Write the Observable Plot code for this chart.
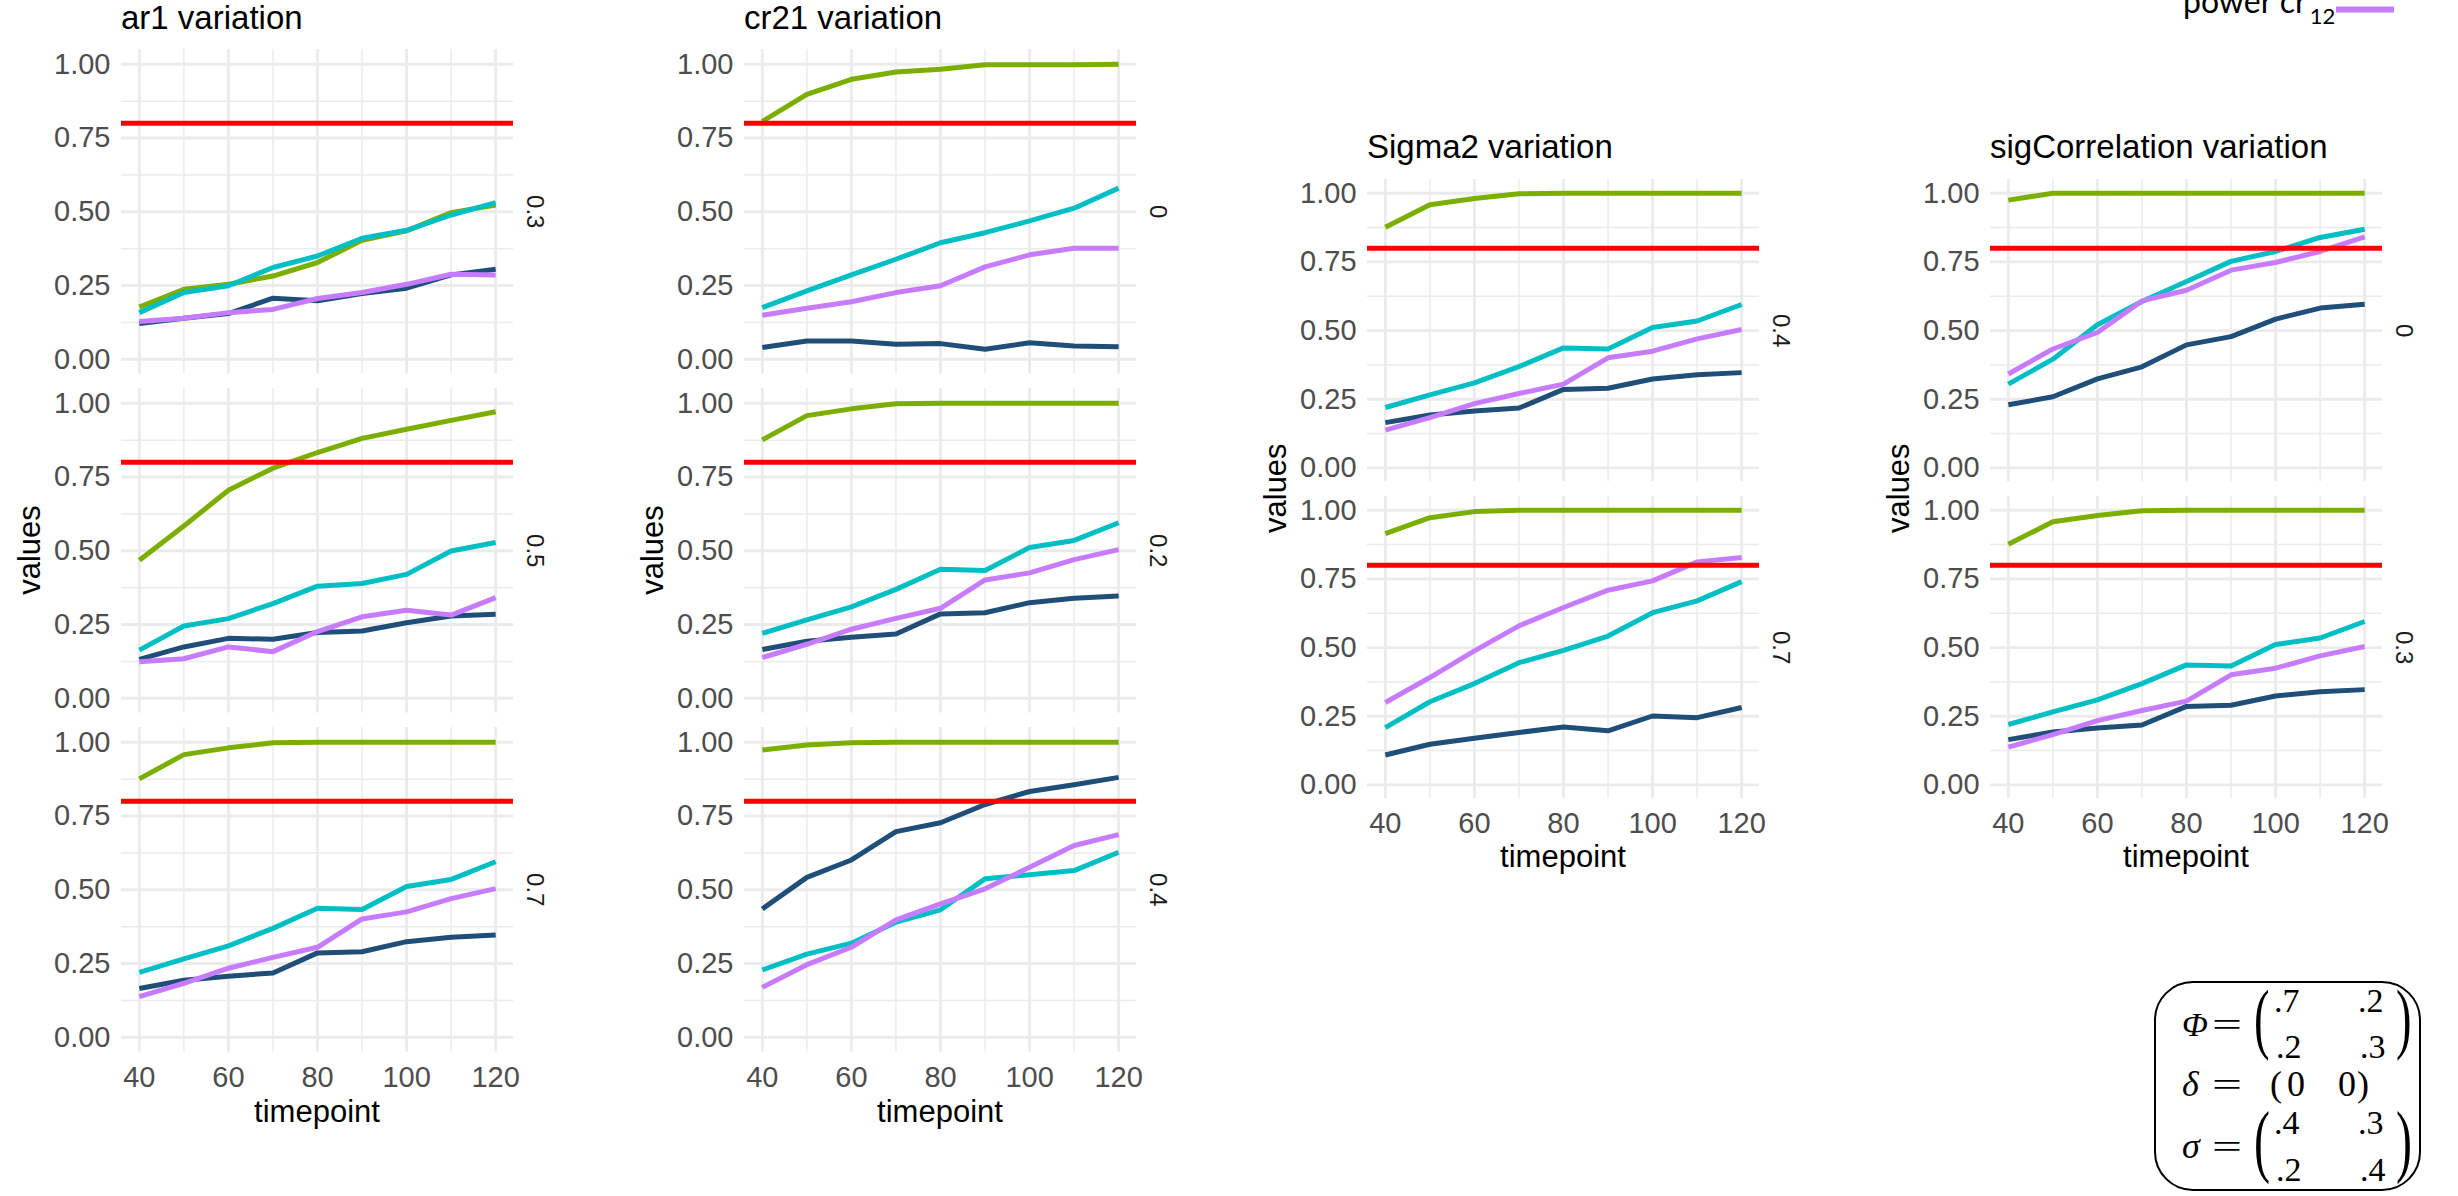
<!DOCTYPE html>
<html>
<head>
<meta charset="utf-8">
<script src="https://cdn.jsdelivr.net/npm/d3@7"></script>
<script src="https://cdn.jsdelivr.net/npm/@observablehq/plot@0.6"></script>
<style>
  html, body { margin: 0; padding: 0; background: #fff; }
  #fig { position: relative; width: 2458px; height: 1196px; overflow: hidden; background: #fff; }
  #fig svg { display: block; max-width: none; }
</style>
</head>
<body>
<div id="fig"></div>
<script>
// ---- data -------------------------------------------------------------
const timepoints = [40, 50, 60, 70, 80, 90, 100, 110, 120];
const xMajor = [40, 60, 80, 100, 120];
const xMinor = [50, 70, 90, 110];
const yMajor = [0, 0.25, 0.5, 0.75, 1];
const yMinor = [0.125, 0.375, 0.625, 0.875];
const target = 0.8;

const seriesOrder = ["cr21", "ar1", "ar2", "cr12"];
const seriesColors = { cr21: "#1F4E79", ar1: "#7CAE00", ar2: "#00BFC4", cr12: "#C77CFF" };

// baseline scenario (ar1 = .7, cr21 = .2, Sigma2 = .4, sigCorrelation = .3)
const baseline = {
  cr21: [0.165, 0.193, 0.207, 0.218, 0.286, 0.290, 0.324, 0.339, 0.347],
  ar1:  [0.876, 0.958, 0.981, 0.998, 1.000, 1.000, 1.000, 1.000, 1.000],
  ar2:  [0.220, 0.266, 0.310, 0.369, 0.437, 0.433, 0.511, 0.535, 0.595],
  cr12: [0.138, 0.183, 0.234, 0.271, 0.305, 0.401, 0.425, 0.470, 0.504]
};
const ar1_03 = {
  cr21: [0.121, 0.139, 0.155, 0.207, 0.198, 0.223, 0.241, 0.286, 0.305],
  ar1:  [0.177, 0.237, 0.254, 0.282, 0.328, 0.403, 0.435, 0.497, 0.523],
  ar2:  [0.158, 0.226, 0.249, 0.311, 0.350, 0.410, 0.437, 0.489, 0.531],
  cr12: [0.128, 0.139, 0.158, 0.169, 0.206, 0.226, 0.254, 0.288, 0.286]
};
const ar1_05 = {
  cr21: [0.132, 0.174, 0.203, 0.200, 0.223, 0.228, 0.256, 0.279, 0.285],
  ar1:  [0.468, 0.584, 0.705, 0.780, 0.833, 0.881, 0.912, 0.942, 0.971],
  ar2:  [0.163, 0.245, 0.270, 0.321, 0.380, 0.389, 0.420, 0.499, 0.528],
  cr12: [0.124, 0.134, 0.174, 0.158, 0.226, 0.276, 0.298, 0.282, 0.341]
};
const cr21_0 = {
  cr21: [0.040, 0.062, 0.062, 0.051, 0.053, 0.034, 0.056, 0.045, 0.042],
  ar1:  [0.806, 0.898, 0.949, 0.974, 0.983, 0.998, 0.998, 0.998, 1.000],
  ar2:  [0.175, 0.232, 0.286, 0.339, 0.395, 0.429, 0.469, 0.512, 0.580],
  cr12: [0.149, 0.173, 0.195, 0.226, 0.249, 0.313, 0.354, 0.376, 0.376]
};
const cr21_04 = {
  cr21: [0.435, 0.542, 0.601, 0.697, 0.727, 0.789, 0.833, 0.856, 0.881],
  ar1:  [0.974, 0.991, 0.998, 1.000, 1.000, 1.000, 1.000, 1.000, 1.000],
  ar2:  [0.228, 0.282, 0.319, 0.390, 0.432, 0.537, 0.551, 0.565, 0.627],
  cr12: [0.169, 0.246, 0.305, 0.398, 0.452, 0.503, 0.576, 0.650, 0.687]
};
const sigma2_07 = {
  cr21: [0.109, 0.148, 0.170, 0.191, 0.211, 0.197, 0.251, 0.245, 0.282],
  ar1:  [0.915, 0.973, 0.995, 1.000, 1.000, 1.000, 1.000, 1.000, 1.000],
  ar2:  [0.209, 0.303, 0.369, 0.445, 0.490, 0.542, 0.627, 0.670, 0.740],
  cr12: [0.300, 0.391, 0.488, 0.579, 0.646, 0.709, 0.743, 0.812, 0.828]
};
const sigCor_0 = {
  cr21: [0.230, 0.259, 0.324, 0.368, 0.448, 0.478, 0.542, 0.582, 0.596],
  ar1:  [0.975, 1.000, 1.000, 1.000, 1.000, 1.000, 1.000, 1.000, 1.000],
  ar2:  [0.305, 0.396, 0.521, 0.606, 0.679, 0.752, 0.788, 0.839, 0.869],
  cr12: [0.342, 0.433, 0.493, 0.608, 0.647, 0.720, 0.748, 0.788, 0.841]
};

const columns = [
  { title: "ar1 variation",            levels: ["0.3", "0.5", "0.7"], sets: [ar1_03, ar1_05, baseline] },
  { title: "cr21 variation",           levels: ["0", "0.2", "0.4"],   sets: [cr21_0, baseline, cr21_04] },
  { title: "Sigma2 variation",         levels: ["0.4", "0.7"],        sets: [baseline, sigma2_07] },
  { title: "sigCorrelation variation", levels: ["0", "0.3"],          sets: [sigCor_0, baseline] }
];

// ---- layout -----------------------------------------------------------
const FONT = '"Liberation Sans", Arial, sans-serif';
const PANEL_W = 392, ML = 120, MR = 50;
const colLeft = [121, 744, 1367, 1990];
const tall = { tops: [48.5, 387.5, 727], h: 324.5, titleY: 29, tickBase: 1122 };
const short = { tops: [178.6, 495.6], h: 302.2, titleY: 158, tickBase: 867 };
const fig = document.getElementById("fig");

function panel(data, strip, left, top, h, showX) {
  const rows = seriesOrder.flatMap(key =>
    data[key].map((v, i) => ({ series: key, t: timepoints[i], v })));
  const mb = showX ? 50 : 0;
  const svg = Plot.plot({
    width: ML + PANEL_W + MR,
    height: h + mb,
    marginLeft: ML, marginRight: MR, marginTop: 0, marginBottom: mb,
    style: { fontFamily: FONT, fontSize: "29px", color: "#4D4D4D", background: "none", overflow: "visible" },
    x: { domain: [36, 124], ticks: xMajor, tickSize: 0, tickPadding: 14, label: null, axis: showX ? "bottom" : null },
    y: { domain: [-0.05, 1.05], ticks: yMajor, tickFormat: d3.format(".2f"), tickSize: 0, tickPadding: 11, label: null },
    color: { domain: seriesOrder, range: seriesOrder.map(k => seriesColors[k]) },
    marks: [
      Plot.ruleY(yMinor, { stroke: "#EBEBEB", strokeWidth: 1.5 }),
      Plot.ruleX(xMinor, { stroke: "#EBEBEB", strokeWidth: 1.5 }),
      Plot.ruleY(yMajor, { stroke: "#EBEBEB", strokeWidth: 2.8 }),
      Plot.ruleX(xMajor, { stroke: "#EBEBEB", strokeWidth: 2.8 }),
      Plot.line(rows, { x: "t", y: "v", z: "series", stroke: "series", strokeWidth: 5, strokeLinecap: "butt", strokeLinejoin: "round" }),
      Plot.ruleY([target], { stroke: "#FF0000", strokeWidth: 5 }),
      Plot.text([strip], { text: d => d, frameAnchor: "right", dx: 21, rotate: 90, textAnchor: "middle", lineAnchor: "middle", fontSize: 24, fill: "#1A1A1A" })
    ]
  });
  const wrap = document.createElement("div");
  wrap.style.cssText = `position:absolute;left:${left - ML}px;top:${top}px;width:${ML + PANEL_W + MR}px;`;
  wrap.append(svg);
  fig.append(wrap);
}

columns.forEach((col, ci) => {
  const geo = col.levels.length === 3 ? tall : short;
  col.sets.forEach((set, k) => {
    panel(set, col.levels[k], colLeft[ci], geo.tops[k], geo.h, k === col.sets.length - 1);
  });
});

// ---- titles, axis titles, legend key, parameter box ------------------
const over = d3.select(fig).append("svg")
  .attr("width", 2458).attr("height", 1196)
  .style("position", "absolute").style("left", "0px").style("top", "0px")
  .style("pointer-events", "none");

columns.forEach((col, ci) => {
  const geo = col.levels.length === 3 ? tall : short;
  const left = colLeft[ci];
  const yTop = geo.tops[0], yBot = geo.tops[geo.tops.length - 1] + geo.h;
  over.append("text").attr("x", left).attr("y", geo.titleY)
    .attr("font-family", FONT).attr("font-size", 33).attr("fill", "#000").text(col.title);
  over.append("text")
    .attr("transform", `translate(${left - 92},${(yTop + yBot) / 2}) rotate(-90)`)
    .attr("text-anchor", "middle").attr("dominant-baseline", "central")
    .attr("font-family", FONT).attr("font-size", 31).attr("fill", "#000").text("values");
  over.append("text").attr("x", left + PANEL_W / 2).attr("y", geo.tickBase)
    .attr("text-anchor", "middle")
    .attr("font-family", FONT).attr("font-size", 31).attr("fill", "#000").text("timepoint");
});

// legend entry (the rows above it fall outside the figure)
const leg = over.append("text").attr("x", 2183).attr("y", 13)
  .attr("font-family", "Lato, 'Open Sans', sans-serif").attr("font-size", 32).attr("fill", "#000");
leg.append("tspan").text("power cr");
leg.append("tspan").attr("dx", 3).attr("dy", 11).attr("font-size", 22).text("12");
over.append("line").attr("x1", 2336).attr("x2", 2394).attr("y1", 9.5).attr("y2", 9.5)
  .attr("stroke", seriesColors.cr12).attr("stroke-width", 6);

// parameter box
const SERIF = '"Liberation Serif", "DejaVu Serif", serif';
over.append("rect").attr("x", 2155).attr("y", 982).attr("width", 265).attr("height", 208)
  .attr("rx", 38).attr("fill", "none").attr("stroke", "#000").attr("stroke-width", 2);

function t(x, y, s, size = 34, italic = false) {
  return over.append("text").attr("x", x).attr("y", y).attr("font-family", SERIF)
    .attr("font-size", size).attr("font-style", italic ? "italic" : "normal").attr("fill", "#000").text(s);
}
function bigParen(x, yTop, yBot, ch) {
  const size = (yBot - yTop) / 0.9;
  const base = yTop + size * 0.69;
  over.append("text").attr("transform", `translate(${x},${base}) scale(0.6,1)`)
    .attr("font-family", SERIF).attr("font-size", size).attr("fill", "#000").text(ch);
}
function eq(x, y) {
  t(x, y, "=", 34).attr("textLength", 30).attr("lengthAdjust", "spacingAndGlyphs");
}

// Φ row
t(2182, 1036, "Φ", 34, true); eq(2212, 1036);
bigParen(2254, 990, 1060, "("); bigParen(2396, 990, 1060, ")");
t(2274, 1012, ".7"); t(2358, 1012, ".2"); t(2276, 1058, ".2"); t(2360, 1058, ".3");
// δ row
t(2182, 1096, "δ", 36, true); eq(2212, 1096);
t(2270, 1096, "(", 36); t(2287, 1096, "0", 36); t(2338, 1096, "0", 36); t(2357, 1096, ")", 36);
// σ row
t(2182, 1158, "σ", 36, true); eq(2212, 1158);
bigParen(2254, 1112, 1184, "("); bigParen(2396, 1112, 1184, ")");
t(2274, 1134, ".4"); t(2358, 1134, ".3"); t(2276, 1181, ".2"); t(2360, 1181, ".4");
</script>
</body>
</html>
